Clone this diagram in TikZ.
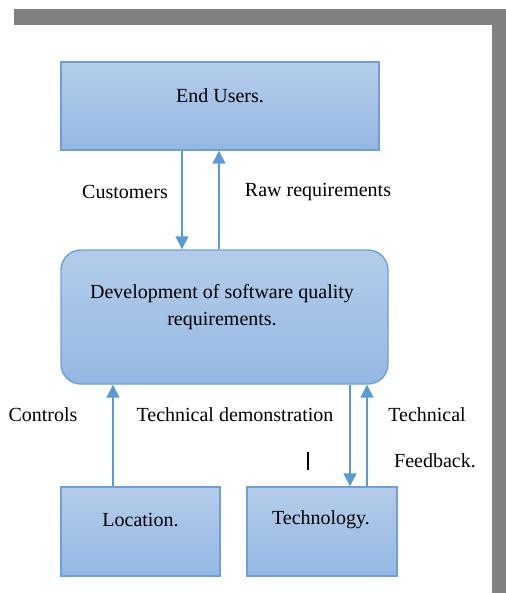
\documentclass[tikz,border=0pt]{standalone}
\usepackage{fontspec}
\setmainfont{Liberation Serif}
\usepackage{tikz}
\usetikzlibrary{calc,arrows.meta}

\definecolor{boxtop}{RGB}{180,204,234}
\definecolor{boxbot}{RGB}{148,184,227}
\definecolor{boxline}{RGB}{110,160,215}
\definecolor{arrline}{RGB}{91,155,213}
\definecolor{frame}{RGB}{128,128,128}

\tikzset{
	box/.style={draw=boxline, line width=0.7pt, top color=boxtop, bottom color=boxbot, inner sep=0pt},
	txt/.style={font=\rmfamily\fontsize{10}{12}\selectfont, inner sep=0pt, align=center},
	arr/.style={draw=arrline, line width=0.7pt, -{Triangle[width=6.5pt,length=6.5pt]}}
}

\begin{document}
\begin{tikzpicture}[x=0.5pt,y=-0.5pt]
			\useasboundingbox (0,0) rectangle (506,593);
			\fill[frame] (14,9) rectangle (506,25);
			\fill[frame] (492,9) rectangle (506,593);
			
			\node[box, minimum width=159pt, minimum height=44pt] (eu) at (220,106) {};
			\node[txt] (eutxt) at (220,96) {End Users.};
			
			\node[box, rounded corners=10pt, minimum width=163.5pt, minimum height=67pt] (dev) at (224.5,317) {};
			\node[txt] (devtxt) at (222,307.5) {Development of software quality\\[1.5pt]requirements.};
			
			\node[box, minimum width=79.5pt, minimum height=44.5pt] (loc) at (140.5,531.5) {};
			\node[txt] (loctxt) at (140.5,520) {Location.};
			
			\node[box, minimum width=75pt, minimum height=44.5pt] (tech) at (322,531.5) {};
			\node[txt] (techtxt) at (321,520) {Technology.};
			
			\coordinate (c1) at (182,0);
			\coordinate (c2) at (219,0);
			\coordinate (c3) at (113,0);
			\coordinate (c4) at (350,0);
			\coordinate (c5) at (367,0);
			
			\draw[arr] (eu.south -| c1) -- (dev.north -| c1);
			\draw[arr] (dev.north -| c2) -- (eu.south -| c2);
			\draw[arr] (loc.north -| c3) -- (dev.south -| c3);
			\draw[arr] (dev.south -| c4) -- (tech.north -| c4);
			\draw[arr] (tech.north -| c5) -- (dev.south -| c5);
			
			\node[txt] (cust) at (125,192) {Customers};
			\node[txt] (raw) at (318,192) {Raw requirements};
			\node[txt] (ctrl) at (43,415) {Controls};
			\node[txt] (demo) at (235,415) {Technical demonstration};
			\node[txt] (techn) at (427,415) {Technical};
			\node[txt] (feed) at (435,461) {Feedback.};
			
			\coordinate (bar) at (308,461);
			\draw[line width=0.6pt] ($(bar)+(0,-9)$) -- ($(bar)+(0,9)$);
		\end{tikzpicture}
\end{document}
